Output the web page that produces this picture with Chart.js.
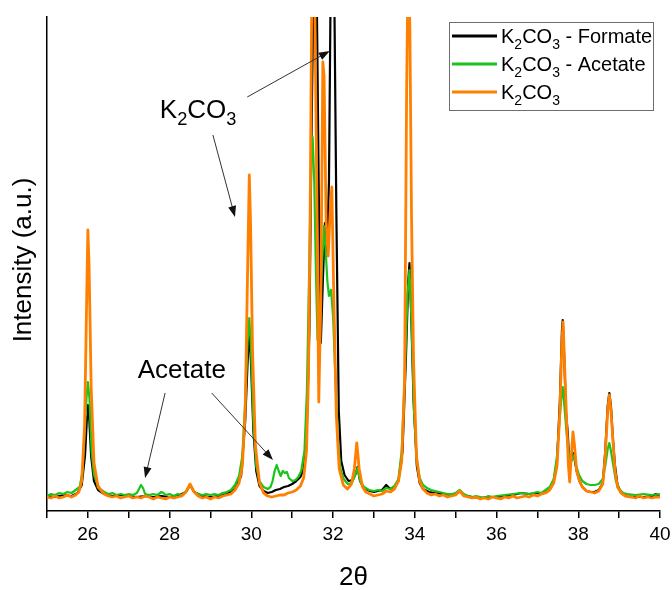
<!DOCTYPE html>
<html>
<head>
<meta charset="utf-8">
<script src="https://cdn.jsdelivr.net/npm/chart.js@4.4.1/dist/chart.umd.min.js"></script>
<style>
  html, body { margin: 0; padding: 0; background: #fff; }
  #wrap { width: 672px; height: 590px; }
</style>
</head>
<body>
<div id="wrap"><canvas id="c" width="672" height="590"></canvas></div>
<script>
// ---- Data (2θ, intensity in arbitrary units; axis top = 494) ----
const xTickLabels = [26, 28, 30, 32, 34, 36, 38, 40];
const seriesNames = ['K₂CO₃ - Formate', 'K₂CO₃ - Acetate', 'K₂CO₃'];

const formate = [[25.0,15],[25.2,14],[25.4,16],[25.6,15],[25.75,18],[25.85,26],[25.93,55],[25.98,95],[26.0,106],[26.03,95],[26.08,55],[26.15,30],[26.25,21],[26.4,17],[26.6,15],[26.8,16],[27.0,15],[27.2,14],[27.4,15],[27.6,14],[27.8,15],[28.0,14],[28.2,15],[28.4,19],[28.5,26],[28.6,19],[28.8,15],[29.0,14],[29.2,15],[29.4,17],[29.6,22],[29.75,35],[29.85,90],[29.92,160],[29.95,178],[29.99,150],[30.05,80],[30.12,40],[30.2,25],[30.3,20],[30.4,18],[30.5,19],[30.6,21],[30.7,22],[30.8,24],[30.9,25],[31.0,27],[31.1,30],[31.2,34],[31.28,42],[31.35,70],[31.42,180],[31.48,400],[31.52,520],[31.6,520],[31.65,320],[31.7,168],[31.75,230],[31.8,288],[31.85,260],[31.9,330],[31.94,520],[32.03,520],[32.08,300],[32.14,100],[32.2,50],[32.28,36],[32.38,30],[32.48,31],[32.55,37],[32.6,44],[32.66,30],[32.75,23],[32.9,20],[33.0,19],[33.1,20],[33.2,21],[33.3,26],[33.4,22],[33.5,24],[33.6,30],[33.7,60],[33.78,150],[33.84,230],[33.87,248],[33.91,200],[33.97,110],[34.05,45],[34.12,28],[34.2,22],[34.35,19],[34.5,18],[34.7,17],[34.9,16],[35.0,17],[35.1,20],[35.2,16],[35.4,14],[35.6,13],[35.8,14],[36.0,14],[36.2,15],[36.4,16],[36.6,18],[36.8,17],[37.0,18],[37.1,17],[37.2,19],[37.3,22],[37.4,30],[37.48,50],[37.55,110],[37.6,180],[37.62,191],[37.66,150],[37.7,98],[37.74,80],[37.78,50],[37.82,50],[37.87,58],[37.91,52],[37.96,40],[38.03,30],[38.1,24],[38.2,20],[38.3,19],[38.4,19],[38.5,21],[38.6,28],[38.66,60],[38.72,105],[38.76,118],[38.8,105],[38.85,71],[38.9,45],[38.96,26],[39.05,18],[39.2,15],[39.4,14],[39.6,14],[39.8,15],[39.9,17],[40.0,14]];

const acetate = [[25.0,15],[25.1,17],[25.2,16],[25.3,18],[25.4,17],[25.5,19],[25.6,18],[25.7,21],[25.8,24],[25.87,40],[25.93,85],[25.97,115],[26.0,129],[26.04,112],[26.09,60],[26.15,36],[26.22,28],[26.3,22],[26.4,19],[26.5,17],[26.6,18],[26.7,16],[26.8,17],[26.9,16],[27.0,17],[27.1,16],[27.2,18],[27.25,22],[27.3,26],[27.35,23],[27.4,17],[27.5,16],[27.6,17],[27.7,16],[27.8,19],[27.85,18],[27.9,16],[28.0,17],[28.1,15],[28.2,17],[28.3,16],[28.4,19],[28.5,26],[28.6,19],[28.7,17],[28.8,16],[28.9,17],[29.0,16],[29.1,17],[29.2,16],[29.3,18],[29.4,19],[29.5,21],[29.6,26],[29.7,35],[29.78,55],[29.85,110],[29.91,170],[29.95,193],[29.99,165],[30.05,90],[30.12,45],[30.2,30],[30.3,24],[30.4,22],[30.47,24],[30.52,30],[30.57,40],[30.62,46],[30.67,40],[30.72,35],[30.77,40],[30.82,38],[30.87,39],[30.92,33],[31.0,30],[31.08,31],[31.15,34],[31.22,40],[31.3,60],[31.36,120],[31.42,250],[31.47,360],[31.5,374],[31.54,330],[31.58,240],[31.62,171],[31.67,190],[31.72,240],[31.78,285],[31.82,260],[31.86,230],[31.9,215],[31.95,221],[32.0,195],[32.06,130],[32.12,70],[32.18,42],[32.26,32],[32.36,27],[32.46,28],[32.54,36],[32.6,43],[32.66,30],[32.76,24],[32.88,21],[33.0,20],[33.1,21],[33.2,20],[33.3,23],[33.4,22],[33.5,25],[33.6,32],[33.68,60],[33.75,130],[33.82,215],[33.87,241],[33.92,190],[33.98,100],[34.05,50],[34.12,33],[34.2,26],[34.3,23],[34.4,21],[34.5,20],[34.6,19],[34.7,18],[34.8,17],[34.9,17],[35.0,18],[35.1,21],[35.2,17],[35.3,15],[35.4,14],[35.5,15],[35.6,14],[35.7,13],[35.8,15],[35.9,14],[36.0,15],[36.2,16],[36.4,17],[36.6,18],[36.8,17],[37.0,19],[37.1,18],[37.2,21],[37.3,24],[37.4,32],[37.48,55],[37.55,95],[37.6,120],[37.62,124],[37.66,105],[37.71,80],[37.76,60],[37.81,48],[37.86,52],[37.9,56],[37.95,45],[38.02,36],[38.1,30],[38.2,27],[38.3,26],[38.4,26],[38.5,27],[38.6,32],[38.66,45],[38.72,62],[38.76,68],[38.8,60],[38.86,45],[38.92,30],[39.0,22],[39.1,18],[39.2,17],[39.4,16],[39.6,17],[39.8,16],[40.0,17]];

const k2co3 = [[25.0,14],[25.1,13],[25.2,15],[25.3,13],[25.4,14],[25.5,16],[25.6,14],[25.7,16],[25.78,19],[25.85,30],[25.92,85],[25.97,210],[26.0,281],[26.03,245],[26.08,125],[26.15,48],[26.25,24],[26.4,17],[26.5,15],[26.6,14],[26.7,15],[26.8,13],[26.9,14],[27.0,15],[27.1,13],[27.2,14],[27.3,13],[27.4,15],[27.5,14],[27.6,12],[27.7,14],[27.8,13],[27.9,12],[28.0,14],[28.1,13],[28.2,14],[28.3,15],[28.4,19],[28.5,27],[28.6,19],[28.7,15],[28.8,13],[28.9,14],[29.0,12],[29.1,14],[29.2,13],[29.3,15],[29.4,16],[29.5,17],[29.6,21],[29.7,28],[29.78,45],[29.85,100],[29.9,220],[29.95,336],[29.98,290],[30.03,160],[30.1,65],[30.2,28],[30.3,18],[30.4,15],[30.5,14],[30.6,15],[30.7,16],[30.8,16],[30.9,18],[31.0,19],[31.1,21],[31.2,25],[31.28,33],[31.35,60],[31.4,140],[31.44,300],[31.48,520],[31.55,520],[31.6,330],[31.65,109],[31.7,210],[31.75,449],[31.78,435],[31.83,290],[31.88,255],[31.93,300],[31.97,324],[32.02,210],[32.08,95],[32.15,42],[32.25,26],[32.35,22],[32.45,27],[32.52,42],[32.58,68],[32.64,42],[32.72,24],[32.8,19],[32.9,17],[33.0,15],[33.1,16],[33.2,17],[33.3,20],[33.4,19],[33.5,22],[33.6,30],[33.68,50],[33.75,130],[33.8,420],[33.84,560],[33.88,480],[33.92,294],[33.97,150],[34.04,55],[34.12,30],[34.2,22],[34.3,18],[34.4,16],[34.5,17],[34.6,15],[34.7,16],[34.8,14],[34.9,15],[35.0,16],[35.1,20],[35.2,15],[35.3,14],[35.4,13],[35.5,14],[35.6,12],[35.7,13],[35.8,12],[35.9,14],[36.0,13],[36.1,12],[36.2,14],[36.3,13],[36.4,15],[36.5,13],[36.6,14],[36.7,15],[36.8,14],[36.9,16],[37.0,15],[37.1,17],[37.2,18],[37.3,21],[37.4,28],[37.48,45],[37.55,100],[37.6,170],[37.63,189],[37.67,140],[37.72,85],[37.76,45],[37.79,29],[37.83,55],[37.87,79],[37.91,65],[37.96,40],[38.03,30],[38.1,24],[38.2,20],[38.3,19],[38.4,18],[38.5,20],[38.6,27],[38.66,55],[38.72,100],[38.76,116],[38.8,100],[38.85,70],[38.9,40],[38.96,24],[39.05,18],[39.15,15],[39.3,14],[39.4,13],[39.5,15],[39.6,13],[39.7,14],[39.8,13],[39.9,14],[40.0,14]];

// Annotation anchor points (data coordinates)
const k2co3Label = [27.76, 393];
const acetateLabel = [27.22, 133];
const k2co3Arrows = [[[29.9, 414], [31.92, 460]], [[29.06, 376], [29.6, 294]]];
const acetateArrows = [[[27.89, 118], [27.4, 33]], [[29.03, 118], [30.53, 51]]];

// ---- Styling ----
const FONT = '"Liberation Sans", Arial, Helvetica, sans-serif';
const COLORS = ['#000000', '#1ac41a', '#ff8000'];
const WIDTHS = [2.2, 2.2, 2.8];

function toXY(arr) { return arr.map(p => ({ x: p[0], y: p[1] })); }

function richParts(name) {
  const map = { '₂': '2', '₃': '3' };
  const parts = [];
  for (const ch of name) {
    const sub = map[ch] !== undefined;
    const t = sub ? map[ch] : ch;
    if (parts.length && parts[parts.length - 1].sub === sub) parts[parts.length - 1].t += t;
    else parts.push({ t, sub });
  }
  return parts;
}
function drawRich(ctx, name, x, y, size) {
  const parts = richParts(name);
  let cx = x;
  ctx.textAlign = 'left';
  ctx.textBaseline = 'alphabetic';
  for (const p of parts) {
    const s = p.sub ? size * 0.7 : size;
    ctx.font = s + 'px ' + FONT;
    ctx.fillText(p.t, cx, p.sub ? y + size * 0.28 : y);
    cx += ctx.measureText(p.t).width;
  }
}
function arrow(ctx, x1, y1, x2, y2) {
  const ang = Math.atan2(y2 - y1, x2 - x1);
  const L = 11, W = 4;
  ctx.strokeStyle = '#333';
  ctx.fillStyle = '#111';
  ctx.lineWidth = 1;
  ctx.beginPath();
  ctx.moveTo(x1, y1);
  ctx.lineTo(x2 - L * 0.8 * Math.cos(ang), y2 - L * 0.8 * Math.sin(ang));
  ctx.stroke();
  ctx.beginPath();
  ctx.moveTo(x2, y2);
  ctx.lineTo(x2 - L * Math.cos(ang) + W * Math.sin(ang), y2 - L * Math.sin(ang) - W * Math.cos(ang));
  ctx.lineTo(x2 - L * Math.cos(ang) - W * Math.sin(ang), y2 - L * Math.sin(ang) + W * Math.cos(ang));
  ctx.closePath();
  ctx.fill();
}

const overlay = {
  id: 'overlay',
  afterDraw(chart) {
    const ctx = chart.ctx;
    const xs = chart.scales.x, ys = chart.scales.y;
    const ca = chart.chartArea;
    const px = v => xs.getPixelForValue(v[0]);
    const py = v => ys.getPixelForValue(v[1]);
    ctx.save();
    ctx.fillStyle = '#000';
    // axis titles
    ctx.font = '26px ' + FONT;
    ctx.textAlign = 'center';
    ctx.textBaseline = 'middle';
    ctx.fillText('2θ', (ca.left + ca.right) / 2, 578);
    ctx.save();
    ctx.translate(24, 260);
    ctx.rotate(-Math.PI / 2);
    ctx.fillText('Intensity (a.u.)', 0, 0);
    ctx.restore();

    // annotations
    ctx.fillStyle = '#000';
    drawRich(ctx, 'K₂CO₃', px(k2co3Label), py(k2co3Label), 26);
    ctx.font = '26px ' + FONT;
    ctx.textAlign = 'left';
    ctx.textBaseline = 'alphabetic';
    ctx.fillText('Acetate', px(acetateLabel), py(acetateLabel));
    for (const a of k2co3Arrows.concat(acetateArrows)) {
      arrow(ctx, px(a[0]), py(a[0]), px(a[1]), py(a[1]));
    }

    // legend
    const bx = 449.5, by = 22.5, bw = 204, bh = 88;
    ctx.fillStyle = '#fff';
    ctx.fillRect(bx, by, bw, bh);
    ctx.strokeStyle = '#6e6e6e';
    ctx.lineWidth = 1;
    ctx.strokeRect(bx, by, bw, bh);
    const rows = [36, 64, 92];
    chart.data.datasets.forEach((ds, i) => {
      const y = rows[i];
      ctx.strokeStyle = ds.borderColor;
      ctx.lineWidth = 3;
      ctx.beginPath();
      ctx.moveTo(452, y);
      ctx.lineTo(497, y);
      ctx.stroke();
      ctx.fillStyle = '#000';
      drawRich(ctx, ds.label, 501, y + 7, 20);
    });
    ctx.restore();
  }
};

const datasets = [formate, acetate, k2co3].map((d, i) => ({
  label: seriesNames[i],
  data: toXY(d),
  borderColor: COLORS[i],
  backgroundColor: COLORS[i],
  borderWidth: WIDTHS[i],
  pointRadius: 0,
  tension: 0,
  fill: false,
  order: 2 - i,
  borderJoinStyle: 'round'
}));

new Chart(document.getElementById('c'), {
  type: 'line',
  data: { datasets },
  options: {
    responsive: false,
    animation: false,
    devicePixelRatio: 1,
    layout: { padding: { top: 17, right: 12, left: 0, bottom: 0 } },
    plugins: { legend: { display: false }, tooltip: { enabled: false } },
    scales: {
      x: {
        type: 'linear',
        min: 25, max: 40,
        afterFit: s => { s.height = 79; s.paddingLeft = 0; s.paddingRight = 0; },
        ticks: {
          stepSize: 1,
          autoSkip: false,
          maxRotation: 0,
          padding: 5,
          color: '#000',
          font: { size: 19, family: FONT },
          callback: v => xTickLabels.includes(v) ? String(v) : ''
        },
        grid: { display: true, drawOnChartArea: false, drawTicks: true, tickLength: 7, color: '#000', lineWidth: 1.5 },
        border: { display: true, color: '#000', width: 1.5 }
      },
      y: {
        type: 'linear',
        min: 0, max: 494,
        afterFit: s => { s.width = 47; s.paddingTop = 0; s.paddingBottom = 0; },
        ticks: { display: false },
        grid: { display: false, drawTicks: false },
        border: { display: true, color: '#000', width: 1.5 }
      }
    }
  },
  plugins: [overlay]
});
</script>
</body>
</html>
